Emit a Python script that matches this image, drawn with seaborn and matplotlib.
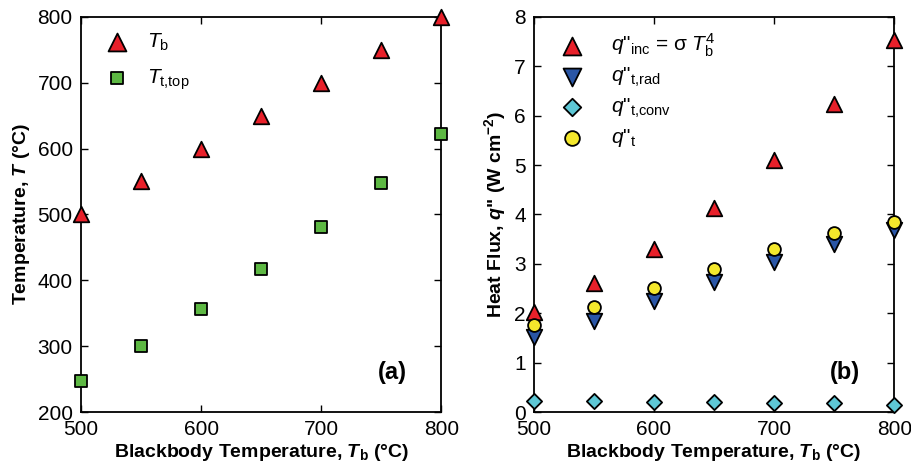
import matplotlib
matplotlib.use("Agg")
import matplotlib.pyplot as plt
import seaborn as sns
import pandas as pd

# ---- data ----
Tb = [500, 550, 600, 650, 700, 750, 800]
T_b_vals = [500, 550, 600, 650, 700, 750, 800]
T_t_top = [247, 300, 357, 417, 481, 548, 622]

q_inc = [2.03, 2.62, 3.31, 4.13, 5.10, 6.23, 7.54]
q_rad = [1.52, 1.85, 2.25, 2.64, 3.04, 3.41, 3.68]
q_conv = [0.23, 0.22, 0.21, 0.20, 0.19, 0.175, 0.15]
q_t = [1.76, 2.12, 2.51, 2.90, 3.29, 3.62, 3.85]

x_ticks = [500, 600, 700, 800]
yT_ticks = [200, 300, 400, 500, 600, 700, 800]
yq_ticks = [0, 1, 2, 3, 4, 5, 6, 7, 8]

sns.set_theme(style="ticks")
plt.rcParams["font.family"] = ["Liberation Sans", "DejaVu Sans"]
plt.rcParams["text.color"] = "black"
plt.rcParams["axes.labelcolor"] = "black"
plt.rcParams["mathtext.fontset"] = "custom"
plt.rcParams["mathtext.rm"] = "Liberation Sans"
plt.rcParams["mathtext.it"] = "Liberation Sans:italic"
plt.rcParams["mathtext.bf"] = "Liberation Sans:bold"
plt.rcParams["mathtext.bfit"] = "Liberation Sans:bold:italic"

RED = "#e8202a"
GREEN = "#5db843"
BLUE = "#2a56a6"
CYAN = "#5ec8d6"
YELLOW = "#f4e82c"

fig = plt.figure(figsize=(9.12, 4.75), dpi=100)
axL = fig.add_axes([0.0888, 0.1326, 0.395, 0.832])
axR = fig.add_axes([0.5855, 0.1326, 0.395, 0.832])

def scat(ax, x, y, marker, color, size, label):
    sns.scatterplot(x=x, y=y, ax=ax, marker=marker, color=color, s=size,
                    edgecolor="black", linewidth=1.3, label=label, clip_on=False, zorder=3)

scat(axL, Tb, T_b_vals, "^", RED, 125, r"$T_{\rm b}$")
scat(axL, Tb, T_t_top, "s", GREEN, 65, r"$T_{\rm t{,}top}$")

scat(axR, Tb, q_inc, "^", RED, 125, r'$q$"$_{\rm inc}$ = σ $T_{\rm b}^{4}$')
scat(axR, Tb, q_rad, "v", BLUE, 125, r'$q$"$_{\rm t{,}rad}$')
scat(axR, Tb, q_conv, "D", CYAN, 60, r'$q$"$_{\rm t{,}conv}$')
scat(axR, Tb, q_t, "o", YELLOW, 85, r'$q$"$_{\rm t}$')

for ax in (axL, axR):
    ax.set_xlim(500, 800)
    ax.set_xticks(x_ticks)
    ax.tick_params(direction="in", top=True, right=True, labelsize=15, length=5,
                   width=1, pad=6, colors="black")
    for sp in ax.spines.values():
        sp.set_linewidth(1.3)
        sp.set_color("black")
        sp.set_visible(True)
    ax.set_xlabel(r"Blackbody Temperature, $\mathbfit{T}_{\mathbf{b}}$ (°C)",
                  fontsize=14, fontweight="bold", labelpad=2, color="black")

axL.set_ylim(200, 800)
axL.set_yticks(yT_ticks)
axL.set_ylabel(r"Temperature, $\mathbfit{T}$ (°C)", fontsize=14, fontweight="bold",
               labelpad=4, color="black")
axR.set_ylim(0, 8)
axR.set_yticks(yq_ticks)
axR.set_ylabel(r'Heat Flux, $\mathbfit{q}$" (W cm$^{\mathbf{-2}}$)', fontsize=14,
               fontweight="bold", labelpad=4, color="black")

axL.legend(loc="upper left", frameon=False, fontsize=15, handletextpad=0.45,
           labelspacing=0.7, borderaxespad=0.3, bbox_to_anchor=(0.002, 1.0),
           markerscale=1.15)
axR.legend(loc="upper left", frameon=False, fontsize=15, handletextpad=0.85,
           labelspacing=0.35, borderaxespad=0.3, bbox_to_anchor=(0.008, 1.0),
           markerscale=1.15)

axL.text(0.905, 0.10, "(a)", transform=axL.transAxes, ha="right", va="center",
         fontsize=17, fontweight="bold")
axR.text(0.905, 0.10, "(b)", transform=axR.transAxes, ha="right", va="center",
         fontsize=17, fontweight="bold")

fig.savefig("out.png", dpi=100)
